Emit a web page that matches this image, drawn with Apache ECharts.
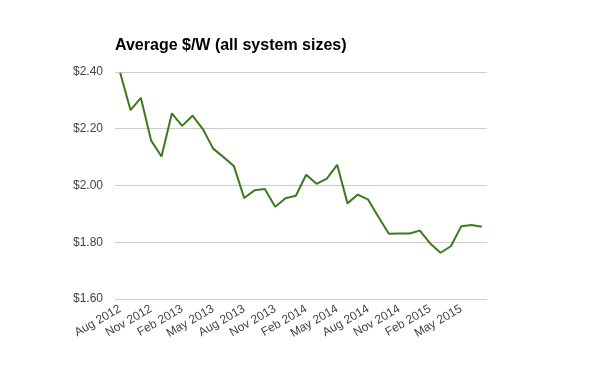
<!DOCTYPE html>
<html><head><meta charset="utf-8">
<script src="https://cdn.jsdelivr.net/npm/echarts@6/dist/echarts.min.js"></script>
<style>html,body{margin:0;padding:0;background:#fff}#c{width:600px;height:371px}</style>
</head><body><div id="c"></div>
<script>
const categories = ["Aug 2012","Sep 2012","Oct 2012","Nov 2012","Dec 2012","Jan 2013","Feb 2013","Mar 2013","Apr 2013","May 2013","Jun 2013","Jul 2013","Aug 2013","Sep 2013","Oct 2013","Nov 2013","Dec 2013","Jan 2014","Feb 2014","Mar 2014","Apr 2014","May 2014","Jun 2014","Jul 2014","Aug 2014","Sep 2014","Oct 2014","Nov 2014","Dec 2014","Jan 2015","Feb 2015","Mar 2015","Apr 2015","May 2015","Jun 2015","Jul 2015"];
const pricePerWatt = [2.397,2.266,2.309,2.158,2.102,2.254,2.210,2.246,2.199,2.130,2.100,2.069,1.956,1.983,1.988,1.925,1.955,1.964,2.038,2.006,2.024,2.073,1.937,1.968,1.950,1.889,1.830,1.831,1.831,1.841,1.796,1.763,1.786,1.856,1.861,1.855];
const titleText = "Average $/W (all system sizes)";
const chart = echarts.init(document.getElementById('c'), null, {renderer:'canvas'});
chart.setOption({
  animation:false,
  title:{text:titleText,left:110,top:33,textStyle:{fontFamily:'Liberation Sans, Arial',fontSize:16,fontWeight:'bold',color:'#000'}},
  grid:{left:115,right:113,top:72,bottom:72,containLabel:false},
  xAxis:{type:'category',data:categories,boundaryGap:true,
    axisLine:{show:false},axisTick:{show:false},
    axisLabel:{interval:2,rotate:30,color:'#444',fontFamily:'Liberation Sans, Arial',fontSize:12,margin:9}},
  yAxis:{type:'value',min:1.6,max:2.4,interval:0.2,
    axisLine:{show:false},axisTick:{show:false},
    splitLine:{lineStyle:{color:'#cccccc',width:1}},
    axisLabel:{color:'#444',fontFamily:'Liberation Sans, Arial',fontSize:12,margin:12,formatter:v=>'$'+v.toFixed(2)}},
  series:[{type:'line',data:pricePerWatt,symbol:'none',lineStyle:{color:'#3b7a1e',width:2},itemStyle:{color:'#3b7a1e'}}]
});
</script></body></html>
